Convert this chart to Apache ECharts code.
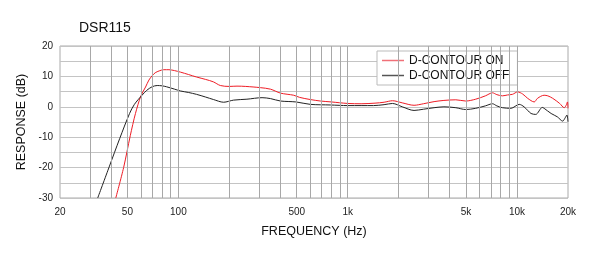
<!DOCTYPE html>
<html>
<head>
<meta charset="utf-8">
<script src="https://cdn.jsdelivr.net/npm/echarts@6/dist/echarts.min.js"></script>
<style>
  html, body { margin: 0; padding: 0; background: #fff; }
  #chart { width: 600px; height: 258px; }
</style>
</head>
<body>
<div id="chart"></div>
<script>
// Frequency response: [Hz, dB]
const contourOn = [
  [42.7, -30], [47.5, -20], [52, -9.5], [55.8, -2.2],
  [60, 3.5], [64, 6.5], [67, 8.8], [70, 10.2], [73, 11.2],
  [77, 11.8], [82, 12.2], [88, 12.2], [95, 11.9], [103, 11.4], [115, 10.6],
  [128, 9.8], [145, 9.0], [161, 8.2], [177, 7.0], [200, 6.7], [222, 6.8],
  [250, 6.7], [305, 6.3], [350, 5.8], [401, 4.5], [480, 3.8], [520, 3.1],
  [600, 2.4], [690, 1.9], [800, 1.6], [1000, 1.1], [1200, 1.0], [1450, 1.2],
  [1640, 1.5], [1840, 2.0], [2100, 1.3], [2465, 0.5], [2800, 1.0], [3237, 1.7],
  [3700, 2.1], [4350, 2.3], [4980, 1.9], [5700, 2.5], [6500, 3.6], [7166, 4.6],
  [7600, 4.0], [8200, 3.6], [8800, 3.9], [9400, 4.1], [10080, 4.9], [10800, 4.2],
  [11550, 2.8], [12630, 1.6], [13220, 2.8], [14450, 3.8], [15200, 3.6], [16240, 2.8],
  [17860, 1.1], [19000, -0.3], [19500, 0.5], [19860, 1.6], [20000, -0.5]
];

const contourOff = [
  [33.4, -30], [39.2, -19.5], [45, -10.5], [51.5, -2.2], [55, 0.8],
  [61, 3.8], [65, 5.4], [70, 6.6], [75, 7.0],
  [80, 6.9], [85, 6.6], [95, 5.8], [103, 5.2], [115, 4.7], [128, 4.1],
  [145, 3.2], [161, 2.4], [185, 1.5], [212, 2.2], [254, 2.5], [312, 3.0],
  [350, 2.7], [401, 1.9], [494, 1.6], [602, 0.8], [792, 0.6], [1000, 0.4],
  [1200, 0.4], [1420, 0.4], [1640, 0.7], [1840, 1.1], [2100, 0.0], [2465, -1.2],
  [2800, -0.8], [3237, -0.3], [3700, 0.0], [4350, -0.3], [4980, -0.9], [5700, -0.5],
  [6500, 0.3], [7166, 1.0], [7600, 0.3], [8200, -0.3], [9200, -0.5], [10300, 0.8],
  [11000, 0.0], [12100, -2.2], [12900, -2.5], [14100, -0.2], [14450, -0.5], [15900, -2.2],
  [17300, -3.3], [18600, -4.7], [19300, -3.5], [19700, -2.7], [20000, -4.9]
];

const freqLabels = [20, 50, 100, 500, 1000, 5000, 10000, 20000];
const freqGrid = [30, 40, 50, 60, 70, 80, 90, 100, 200, 300, 400, 500, 600, 700, 800, 900,
  1000, 2000, 3000, 4000, 5000, 6000, 7000, 8000, 9000, 10000];

const font = "'Liberation Sans', Arial, sans-serif";

const chart = echarts.init(document.getElementById("chart"));

chart.setOption({
  animation: false,
  textStyle: { fontFamily: font },
  title: {
    text: "DSR115",
    left: 74,
    top: 16,
    textStyle: { fontSize: 14, fontWeight: "normal", color: "#111", fontFamily: font },
  },
  legend: {
    data: ["D-CONTOUR ON", "D-CONTOUR OFF"],
    orient: "vertical",
    left: 377,
    top: 51,
    padding: [3, 8, 3, 5],
    itemGap: 2,
    itemWidth: 22,
    itemHeight: 1.5,
    icon: "rect",
    backgroundColor: "#fff",
    borderColor: "#bbb",
    borderWidth: 1,
    textStyle: { fontSize: 12, color: "#111", lineHeight: 13, fontFamily: font },
  },
  grid: {
    left: 60,
    right: 32,
    top: 46,
    bottom: 60,
    show: true,
    borderColor: "#aaa",
    borderWidth: 1,
  },
  xAxis: {
    type: "log",
    logBase: 10,
    min: 20,
    max: 20000,
    name: "FREQUENCY (Hz)",
    nameLocation: "middle",
    nameGap: 27,
    nameTextStyle: { fontSize: 12.5, color: "#111", fontFamily: font },
    axisLine: { show: false },
    axisTick: { show: false },
    splitLine: { show: false },
    axisLabel: {
      customValues: freqLabels,
      fontSize: 10,
      color: "#222",
      margin: 9,
      formatter: (v) => (v >= 1000 ? v / 1000 + "k" : String(v)),
    },
  },
  yAxis: {
    type: "value",
    min: -30,
    max: 20,
    interval: 5,
    name: "RESPONSE (dB)",
    nameLocation: "middle",
    nameGap: 27,
    nameTextStyle: { fontSize: 12.5, color: "#111", fontFamily: font },
    axisLine: { show: false },
    axisTick: { show: false },
    splitLine: { lineStyle: { color: "#c4c4c4", width: 1 } },
    axisLabel: {
      fontSize: 10,
      color: "#222",
      margin: 7,
      formatter: (v) => (v % 10 === 0 ? String(v) : ""),
    },
  },
  series: [
    {
      // vertical log grid
      name: "grid",
      type: "line",
      data: [],
      silent: true,
      z: 1,
      markLine: {
        silent: true,
        symbol: "none",
        label: { show: false },
        lineStyle: { color: "#a8a8a8", width: 1, type: "solid" },
        data: freqGrid.map((f) => ({ xAxis: f })),
      },
    },
    {
      name: "D-CONTOUR ON",
      type: "line",
      data: contourOn,
      symbol: "none",
      smooth: 0.3,
      z: 3,
      lineStyle: { color: "#ee1c25", width: 1 },
      itemStyle: { color: "#f07078" },
    },
    {
      name: "D-CONTOUR OFF",
      type: "line",
      data: contourOff,
      symbol: "none",
      smooth: 0.3,
      z: 4,
      lineStyle: { color: "#222", width: 1 },
      itemStyle: { color: "#555" },
    },
  ],
});
</script>
</body>
</html>
